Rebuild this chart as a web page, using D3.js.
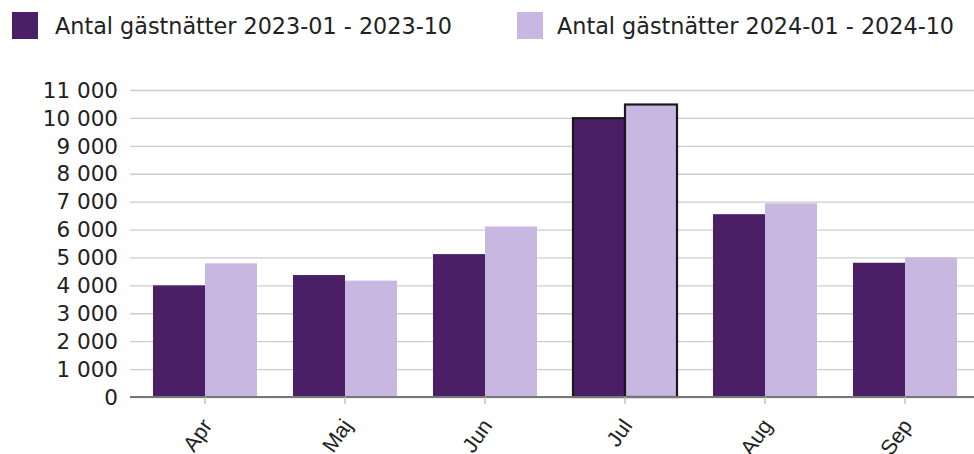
<!DOCTYPE html>
<html>
<head>
<meta charset="utf-8">
<script src="https://cdn.jsdelivr.net/npm/d3@7"></script>
<style>
  body { margin: 0; background: #fff; }
  svg { display: block; font-family: "DejaVu Sans", Verdana, sans-serif; }
</style>
</head>
<body>
<svg id="chart" width="974" height="454"></svg>
<script>
// data
const months = ["Apr", "Maj", "Jun", "Jul", "Aug", "Sep"];
const seriesNames = ["Antal gästnätter 2023-01 - 2023-10", "Antal gästnätter 2024-01 - 2024-10"];
const values2023 = [4000, 4370, 5120, 9990, 6550, 4810];
const values2024 = [4790, 4170, 6110, 10480, 6940, 5000];
const yTicks = [0, 1000, 2000, 3000, 4000, 5000, 6000, 7000, 8000, 9000, 10000, 11000];
const highlighted = "Jul";

const colors = ["#4b1f66", "#c8b7e1"];
const svg = d3.select("#chart");
const margin = {left: 135, right: -1, top: 90, bottom: 57};
const W = 974, H = 454;

const y = d3.scaleLinear().domain([0, 11000]).range([H - margin.bottom, margin.top]);
const x0 = d3.scaleBand().domain(months).range([margin.left, W - margin.right])
    .paddingInner(0.257).paddingOuter(0.1285);
const x1 = d3.scaleBand().domain([0, 1]).range([0, x0.bandwidth()]);

const fmt = v => d3.format(",")(v).replace(/,/g, " ");

// grid + y labels
const yAxis = svg.append("g")
    .attr("transform", `translate(${margin.left - 5},0)`)
    .call(d3.axisRight(y).tickValues(yTicks).tickSize(W - margin.left + 5).tickFormat(""));
yAxis.select(".domain").remove();
yAxis.selectAll(".tick line").attr("stroke", "#cccccc").attr("stroke-width", 1.3);

svg.append("g").selectAll("text")
    .data(yTicks)
    .join("text")
    .attr("x", 118)
    .attr("y", d => y(d))
    .attr("dy", "0.36em")
    .attr("text-anchor", "end")
    .attr("font-size", 21.5)
    .attr("fill", "#222")
    .text(d => fmt(d));

// bars
const rows = months.map((m, i) => ({month: m, vals: [values2023[i], values2024[i]]}));
const groups = svg.append("g").selectAll("g")
    .data(rows)
    .join("g")
    .attr("transform", d => `translate(${x0(d.month)},0)`);

groups.selectAll("rect")
    .data(d => d.vals.map((v, k) => ({k, v, month: d.month})))
    .join("rect")
    .attr("x", d => x1(d.k))
    .attr("y", d => y(d.v))
    .attr("width", x1.bandwidth())
    .attr("height", d => y(0) - y(d.v))
    .attr("fill", d => colors[d.k])
    .attr("stroke", d => d.month === highlighted ? "#1a1a1a" : "none")
    .attr("stroke-width", 2.2);

// x axis
const xAxis = svg.append("g")
    .attr("transform", `translate(0,${y(0)})`)
    .call(d3.axisBottom(x0).tickSize(7).tickSizeOuter(0));
xAxis.select(".domain").attr("stroke", "#777").attr("stroke-width", 2)
    .attr("d", `M${margin.left - 5},0H${W}`);
xAxis.selectAll(".tick line").attr("stroke", "#bbb").attr("stroke-width", 1.3);
xAxis.selectAll(".tick text")
    .attr("font-size", 21.5)
    .attr("fill", "#222")
    .attr("text-anchor", "end")
    .attr("dy", null)
    .attr("transform", "translate(0,23) rotate(-55)");

// legend
const legend = svg.append("g").selectAll("g")
    .data(seriesNames)
    .join("g")
    .attr("transform", (d, i) => `translate(${[12, 517][i]},12)`);
legend.append("rect")
    .attr("width", 26).attr("height", 27)
    .attr("fill", (d, i) => colors[i]);
legend.append("text")
    .attr("x", (d, i) => [43, 40][i]).attr("y", 14)
    .attr("dy", "0.36em")
    .attr("font-size", 22.3)
    .attr("fill", "#222")
    .text(d => d);
</script>
</body>
</html>
